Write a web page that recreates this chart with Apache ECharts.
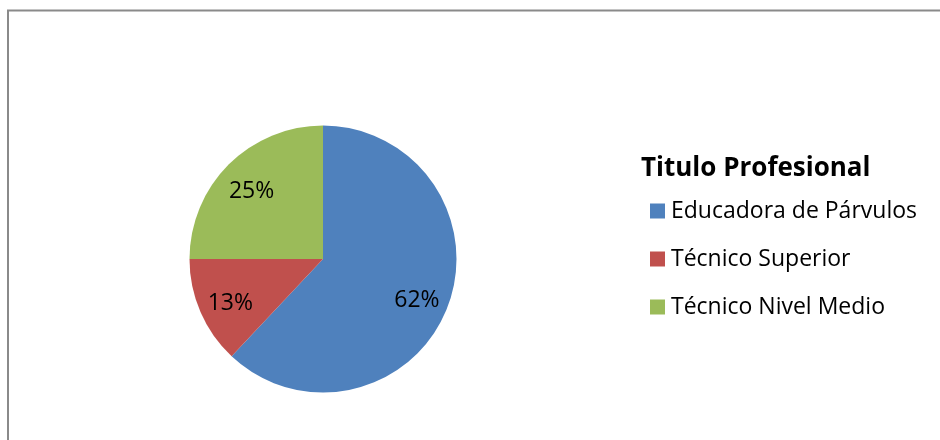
<!DOCTYPE html>
<html>
<head>
<meta charset="utf-8">
<script src="https://cdn.jsdelivr.net/npm/echarts@6/dist/echarts.min.js"></script>
<style>
html,body{margin:0;padding:0;background:#fff;}
#c{width:940px;height:440px;}
</style>
</head>
<body>
<div id="c"></div>
<script>
const categories = ['Educadora de Párvulos', 'Técnico Superior', 'Técnico Nivel Medio'];
const values = [62, 13, 25];
const colors = ['#4F81BD', '#C0504D', '#9BBB59'];
const legendTitle = 'Titulo Profesional';

const FONT = '"Open Sans", "Noto Sans", sans-serif';
const pieData = categories.map((n, i) => ({ name: n, value: values[i], itemStyle: { color: colors[i] } }));
const labelData = categories.map((n, i) => ({ name: n, value: values[i] }));

const chart = echarts.init(document.getElementById('c'), null, { renderer: 'canvas' });
chart.setOption({
  backgroundColor: '#fff',
  animation: false,
  graphic: [{
    type: 'rect', silent: true, z: 100,
    shape: { x: 8, y: 10.5, width: 1200, height: 1200 },
    style: { fill: 'none', stroke: '#8a8a8a', lineWidth: 2 }
  }],
  title: {
    text: legendTitle, left: 641, top: 156, padding: 0,
    textStyle: { fontFamily: FONT, fontWeight: 'bold', fontSize: 26, color: '#000' }
  },
  legend: {
    orient: 'vertical', left: 650, top: 199, padding: 0,
    data: categories,
    itemWidth: 15, itemHeight: 15, itemGap: 24,
    icon: 'rect',
    textStyle: { fontFamily: FONT, fontSize: 23, color: '#000', lineHeight: 24, padding: [0, 0, 0, 1] },
    selectedMode: false
  },
  series: [{
    type: 'pie', center: [323, 259], radius: [0, 133.5],
    startAngle: 90, clockwise: true, silent: true,
    label: { show: false }, labelLine: { show: false },
    itemStyle: { borderWidth: 0 },
    data: pieData
  }, {
    type: 'pie', center: [323, 263], radius: [0, 196],
    startAngle: 90, clockwise: true, silent: true,
    itemStyle: { color: 'rgba(0,0,0,0)', borderWidth: 0 },
    label: { show: true, position: 'inside', formatter: '{d}%', fontFamily: FONT, fontSize: 23, color: '#000' },
    labelLine: { show: false },
    legendHoverLink: false,
    data: labelData
  }]
});
</script>
</body>
</html>
